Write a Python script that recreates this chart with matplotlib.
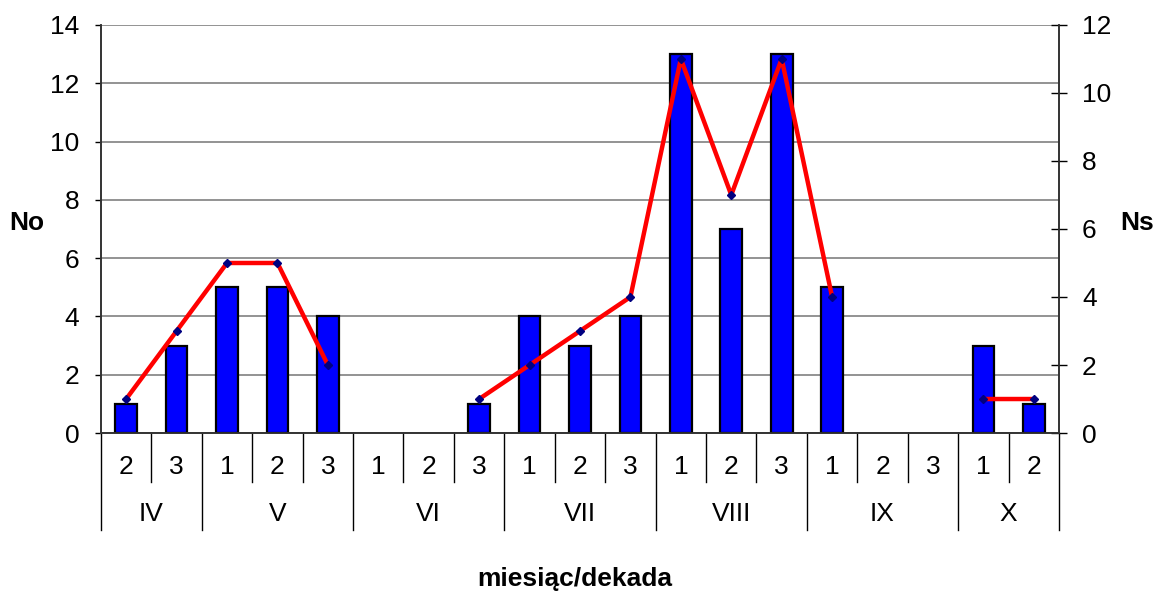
import matplotlib
matplotlib.use("Agg")
import matplotlib.pyplot as plt
import numpy as np

plt.rcParams['font.family'] = ['Liberation Sans', 'DejaVu Sans']

months = ["IV", "V", "VI", "VII", "VIII", "IX", "X"]
month_decades = [["2", "3"], ["1", "2", "3"], ["1", "2", "3"], ["1", "2", "3"],
                 ["1", "2", "3"], ["1", "2", "3"], ["1", "2"]]
no_values = [1, 3, 5, 5, 4, 0, 0, 1, 4, 3, 4, 13, 7, 13, 5, 0, 0, 3, 1]
ns_values = [1, 3, 5, 5, 2, np.nan, np.nan, 1, 2, 3, 4, 11, 7, 11, 4, np.nan, np.nan, 1, 1]

decade_labels = [d for ds in month_decades for d in ds]
n = len(decade_labels)
x = np.arange(n)
no_arr = np.array(no_values, dtype=float)
nz = no_arr > 0

FS = 19

fig = plt.figure(figsize=(11.63, 5.94), dpi=100)
ax = fig.add_axes([0.0868, 0.271, 0.8238, 0.687])
ax2 = ax.twinx()

ax.set_zorder(1)
ax2.set_zorder(2)
ax.patch.set_visible(False)

ax.bar(x[nz], no_arr[nz], width=0.43, color="#0000FF", edgecolor="black", linewidth=1.6, zorder=3)
ax.set_xlim(-0.5, n - 0.5)
ax.set_ylim(0, 14)
ax.set_yticks(np.arange(0, 15, 2))
ax.yaxis.grid(True, color="#808080", linewidth=1.2, zorder=0)
ax.set_axisbelow(True)
ax.set_xticks([])
ax.tick_params(axis='y', direction='out', length=4.5, width=1, labelsize=FS, pad=11)

ax2.plot(x, ns_values, color="#FF0000", linewidth=3.2, zorder=4,
         marker="D", markersize=4, markerfacecolor="#000080", markeredgecolor="#000080")
ax2.set_ylim(0, 12)
ax2.set_yticks(np.arange(0, 13, 2))
ax2.tick_params(axis='y', direction='inout', length=11, width=1, labelsize=FS, pad=11)

for a in (ax, ax2):
    a.spines['top'].set_visible(False)
    for s in ('left', 'right', 'bottom'):
        a.spines[s].set_color('#333333')
        a.spines[s].set_linewidth(1.2)

# category table below the axis
trans = ax.get_xaxis_transform()
row1 = -49 / 408
row2 = -97 / 408
dec_y = -34 / 408
mon_y = -81 / 408
bounds = [0]
for ds in month_decades:
    bounds.append(bounds[-1] + len(ds))
month_bounds = set(bounds)
for b in range(n + 1):
    y_end = row2 if b in month_bounds else row1
    ax.plot([b - 0.5, b - 0.5], [0, y_end], transform=trans, color="black",
            linewidth=1, clip_on=False)
for i, lab in enumerate(decade_labels):
    ax.text(i, dec_y, lab, transform=trans, ha="center", va="center", fontsize=FS)
for m, lab in enumerate(months):
    c = (bounds[m] + bounds[m + 1]) / 2 - 0.5
    ax.text(c, mon_y, lab, transform=trans, ha="center", va="center", fontsize=FS)

fig.text(27 / 1163, 1 - 223 / 594, "No", ha="center", va="center", fontsize=FS, fontweight="bold")
fig.text(1137 / 1163, 1 - 223 / 594, "Ns", ha="center", va="center", fontsize=FS, fontweight="bold")
fig.text(575 / 1163, 1 - 579 / 594, "miesiąc/dekada", ha="center", va="center", fontsize=FS, fontweight="bold")

fig.savefig("out.png", dpi=100)
